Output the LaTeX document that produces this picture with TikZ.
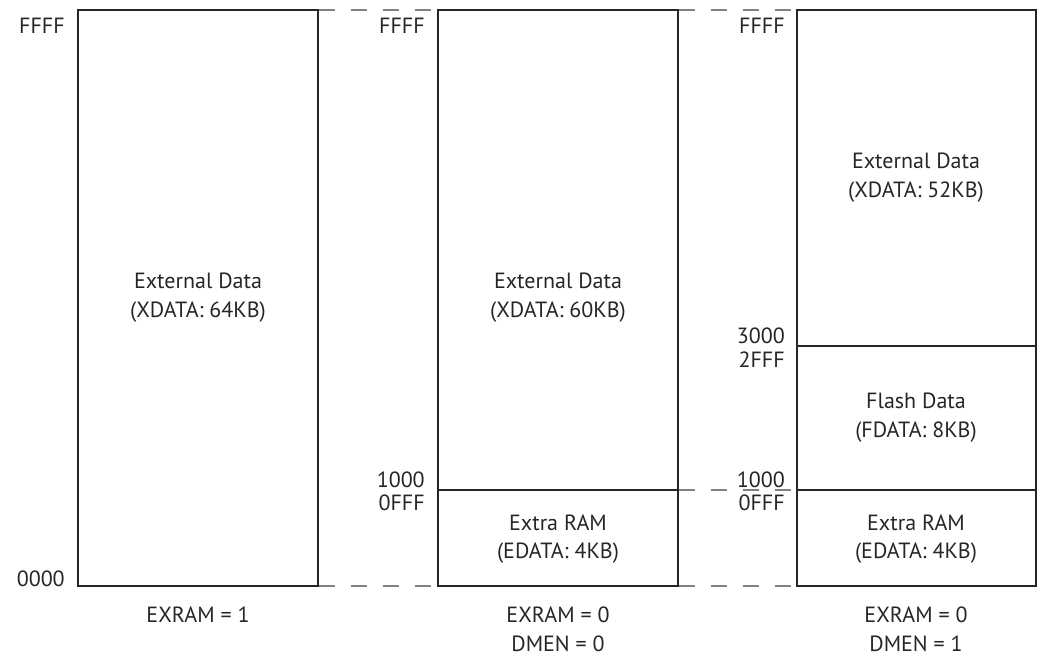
\documentclass[tikz,border=0pt]{standalone}
\usepackage{fontspec}
\setmainfont{PT Sans}

\begin{document}
\begin{tikzpicture}[x=0.75pt,y=0.75pt,yscale=-1,xscale=1,
    memline/.style={line width=1.9pt, draw=black!85},
    gapline/.style={line width=1.1pt, draw=black!50, dash pattern=on 12pt off 12pt},
    txt/.style={inner sep=0pt, anchor=base, text=black!85, font=\fontsize{16.5}{19}\selectfont},
    addr/.style={txt, anchor=base east}]
    \useasboundingbox (0,0) rectangle (1039,657);

    %Dashed Lines between the maps
    \draw [gapline] (319,10) -- (438,10) ;
    \draw [gapline] (319,586) -- (438,586) ;
    \draw [gapline] (679,10) -- (797,10) ;
    \draw [gapline] (679,490) -- (797,490) ;
    \draw [gapline] (679,586) -- (797,586) ;

    %Shape: Rectangle (map 1)
    \draw [memline] (78,10) -- (318,10) -- (318,586) -- (78,586) -- cycle ;
    %Shape: Rectangle (map 2)
    \draw [memline] (438,10) -- (678,10) -- (678,586) -- (438,586) -- cycle ;
    \draw [memline] (438,490) -- (678,490) ;
    %Shape: Rectangle (map 3)
    \draw [memline] (797,10) -- (1036,10) -- (1036,586) -- (797,586) -- cycle ;
    \draw [memline] (797,346) -- (1036,346) ;
    \draw [memline] (797,490) -- (1036,490) ;

    % Address labels
    \node (topa) [addr] at (65,33) {FFFF};
    \node (bota) [addr] at (65,586) {0000};
    \node (topb) [addr] at (425,33) {FFFF};
    \node (hib) [addr] at (425,487) {1000};
    \node (lob) [addr] at (425,510) {0FFF};
    \node (topc) [addr] at (785,33) {FFFF};
    \node (hic) [addr] at (785,343) {3000};
    \node (loc) [addr] at (785,367) {2FFF};
    \node (hid) [addr] at (785,487) {1000};
    \node (lod) [addr] at (785,510) {0FFF};

    % Text Node (map 1)
    \node (xa) [txt] at (198,288) {External Data};
    \node (xsa) [txt] at (198,317) {(XDATA: 64KB)};
    \node (ma) [txt] at (198,622) {EXRAM = 1};
    % Text Node (map 2)
    \node (xb) [txt] at (558,288) {External Data};
    \node (xsb) [txt] at (558,317) {(XDATA: 60KB)};
    \node (eb) [txt] at (558,530) {Extra RAM};
    \node (esb) [txt] at (558,558) {(EDATA: 4KB)};
    \node (mb) [txt] at (558,622) {EXRAM = 0};
    \node (db) [txt] at (558,651) {DMEN = 0};
    % Text Node (map 3)
    \node (xc) [txt] at (916,168) {External Data};
    \node (xsc) [txt] at (916,197) {(XDATA: 52KB)};
    \node (fc) [txt] at (916,408) {Flash Data};
    \node (fsc) [txt] at (916,437) {(FDATA: 8KB)};
    \node (ec) [txt] at (916,530) {Extra RAM};
    \node (esc) [txt] at (916,558) {(EDATA: 4KB)};
    \node (mc) [txt] at (916,622) {EXRAM = 0};
    \node (dc) [txt] at (916,651) {DMEN = 1};

\end{tikzpicture}
\end{document}
